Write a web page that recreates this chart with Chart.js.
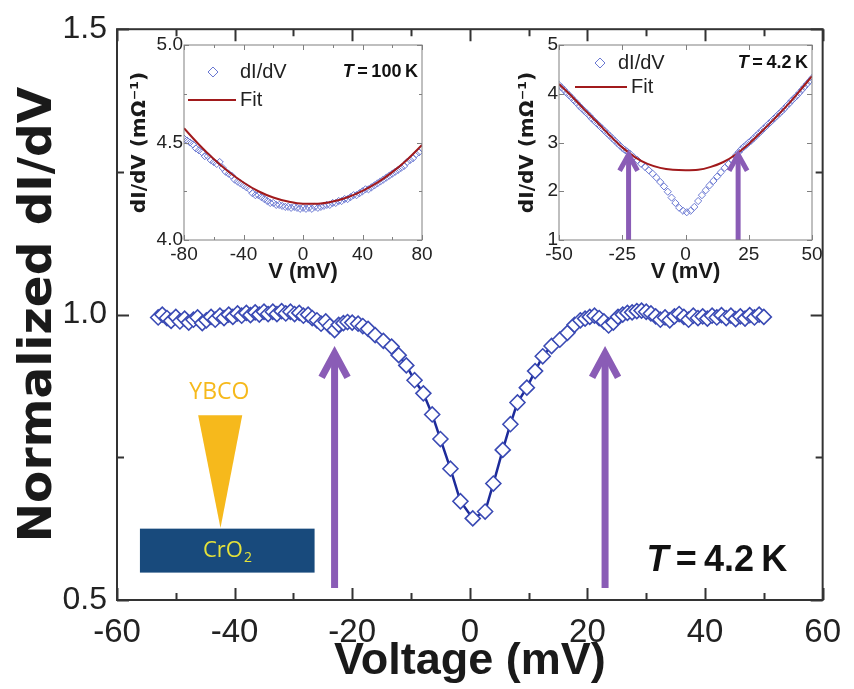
<!DOCTYPE html>
<html><head><meta charset="utf-8">
<script src="https://cdn.jsdelivr.net/npm/chart.js@4.4.1/dist/chart.umd.min.js"></script>
<style>
body{margin:0;background:#fff}
#wrap{position:relative;width:854px;height:689px;overflow:hidden;background:#fff}
canvas{position:absolute}
</style></head>
<body><div id="wrap">
<canvas id="main" width="854" height="689" style="left:0;top:0"></canvas>
<canvas id="in1" width="320" height="255" style="left:120px;top:30px"></canvas>
<canvas id="in2" width="334" height="255" style="left:510px;top:30px"></canvas>
</div>
<script>
// ---------- DATA ----------
const mainVoltage = [-53.0,-52.3,-51.5,-50.8,-50.0,-49.3,-48.5,-47.8,-47.0,-46.3,-45.5,-44.8,-44.0,-43.3,-42.5,-41.8,-41.0,-40.3,-39.5,-38.8,-38.0,-37.3,-36.5,-35.8,-35.0,-34.3,-33.5,-32.8,-32.0,-31.3,-30.5,-29.8,-29.0,-28.3,-27.5,-26.8,-26.0,-25.3,-24.5,-23.8,-23.0,-22.3,-21.5,-20.8,-20.0,-19.0,-18.2,-17.3,-16.1,-14.7,-13.3,-12.1,-10.8,-9.4,-7.9,-6.4,-5.0,-3.3,-1.6,0.5,2.6,4.0,5.6,6.9,8.1,9.7,11.1,12.4,13.9,15.3,16.6,17.8,18.8,19.6,20.4,21.2,22.0,22.8,23.6,24.4,25.2,26.0,26.8,27.6,28.4,29.2,30.0,30.8,31.6,32.4,33.2,34.0,34.8,35.6,36.4,37.2,38.0,38.8,39.6,40.4,41.2,42.0,42.8,43.6,44.4,45.2,46.0,46.8,47.6,48.4,49.2,50.0];
const mainConductance = [0.995,1.000,0.994,0.989,0.996,0.988,0.993,0.986,0.991,0.995,0.985,0.990,0.996,0.991,0.998,0.994,1.000,0.996,1.002,0.998,1.003,0.999,1.004,1.000,1.005,1.001,1.005,1.001,1.006,1.002,1.005,1.001,1.003,0.998,1.000,0.994,0.990,0.984,0.988,0.980,0.973,0.982,0.985,0.987,0.986,0.984,0.980,0.975,0.964,0.954,0.944,0.929,0.911,0.885,0.862,0.825,0.782,0.730,0.673,0.643,0.655,0.704,0.763,0.808,0.846,0.872,0.901,0.927,0.945,0.956,0.968,0.982,0.990,0.993,0.996,0.998,0.994,0.988,0.981,0.986,0.996,1.000,1.003,1.004,1.006,1.007,1.005,1.002,0.997,0.991,0.995,0.990,0.997,1.001,0.996,0.991,0.998,0.994,0.997,0.993,0.998,0.995,0.999,0.994,0.998,0.992,0.997,0.993,0.999,0.995,1.000,0.996];
const mainArrowVoltage = [-23, 23];
const mainXTicks = [-60,-40,-20,0,20,40,60];
const mainYTicks = [0.5,1.0,1.5];

const in1Voltage = [-80,-78,-76,-74,-72,-70,-68,-66,-64,-62,-60,-58,-56,-54,-52,-50,-48,-46,-44,-42,-40,-38,-36,-34,-32,-30,-28,-26,-24,-22,-20,-18,-16,-14,-12,-10,-8,-6,-4,-2,0,2,4,6,8,10,12,14,16,18,20,22,24,26,28,30,32,34,36,38,40,42,44,46,48,50,52,54,56,58,60,62,64,66,68,70,72,74,76,78,80];
const in1Data = [4.52,4.51,4.50,4.49,4.47,4.46,4.45,4.43,4.43,4.41,4.40,4.39,4.40,4.37,4.35,4.34,4.33,4.31,4.30,4.29,4.28,4.27,4.26,4.24,4.23,4.23,4.22,4.21,4.20,4.19,4.19,4.18,4.18,4.175,4.17,4.17,4.165,4.17,4.165,4.16,4.165,4.16,4.165,4.16,4.17,4.165,4.17,4.175,4.18,4.18,4.19,4.19,4.20,4.20,4.21,4.21,4.22,4.23,4.23,4.24,4.25,4.26,4.26,4.27,4.28,4.29,4.30,4.31,4.32,4.33,4.34,4.35,4.36,4.37,4.38,4.40,4.41,4.42,4.44,4.45,4.47];
const in1FitVoltage = [-80,-70,-60,-50,-40,-30,-20,-10,0,10,20,30,40,50,60,70,80];
const in1Fit = [4.573,4.490,4.415,4.350,4.295,4.250,4.218,4.197,4.186,4.186,4.197,4.219,4.252,4.294,4.348,4.412,4.487];

const in2Voltage = [-50,-49,-48,-47,-46,-45,-44,-43,-42,-41,-40,-39,-38,-37,-36,-35,-34,-33,-32,-31,-30,-29,-28,-27,-26,-25,-24,-23,-22,-20.5,-19,-17.5,-16,-14.5,-13,-11.5,-10,-8.5,-7,-5.5,-4,-2.5,-1,0.5,2,3.5,5,6.5,8,9.5,11,12.5,14,15.5,17,18.5,20,21,22,23,24,25,26,27,28,29,30,31,32,33,34,35,36,37,38,39,40,41,42,43,44,45,46,47,48,49,50];
const in2Data = [4.18,4.13,4.08,4.02,3.97,3.92,3.86,3.81,3.75,3.70,3.65,3.60,3.55,3.49,3.44,3.39,3.34,3.29,3.24,3.19,3.14,3.09,3.04,2.99,2.94,2.89,2.85,2.81,2.77,2.70,2.64,2.56,2.50,2.43,2.36,2.28,2.19,2.10,1.99,1.87,1.76,1.66,1.60,1.57,1.60,1.68,1.80,1.92,2.02,2.12,2.21,2.30,2.39,2.48,2.56,2.64,2.74,2.80,2.86,2.91,2.95,3.00,3.04,3.09,3.14,3.19,3.24,3.29,3.34,3.39,3.44,3.49,3.54,3.59,3.64,3.69,3.75,3.80,3.86,3.91,3.96,4.02,4.08,4.14,4.20,4.26,4.32];
const in2FitVoltage = [-50,-45,-40,-35,-30,-25,-20,-15,-10,-5,0,5,10,15,20,25,30,35,40,45,50];
const in2Fit = [4.20,3.95,3.68,3.42,3.15,2.90,2.70,2.56,2.48,2.44,2.43,2.44,2.50,2.60,2.76,2.97,3.22,3.48,3.75,4.05,4.36];
const in2ArrowVoltage = [-22.5, 20.8];

// ---------- STYLE ----------
const SANS = "'Liberation Sans',Arial,sans-serif";
const WIDE = "'DejaVu Sans','Liberation Sans',sans-serif";
const pts = (xs, ys) => xs.map((v, i) => ({x: v, y: ys[i]}));

const framePlugin = {
  id: 'frame',
  afterDatasetsDraw(chart, args, o) {
    const {ctx, chartArea: a, scales: {x, y}} = chart;
    ctx.save();
    ctx.strokeStyle = o.color; ctx.lineWidth = o.width;
    ctx.beginPath();
    const isMajor = (v, s) => Math.abs(v / s - Math.round(v / s)) < 1e-6;
    for (let v = x.min; v <= x.max + 1e-9; v += o.xMinor) {
      const px = Math.round(x.getPixelForValue(v)) + 0.5;
      const L = isMajor(v, o.xMajor) ? o.lenMajor : o.lenMinor;
      ctx.moveTo(px, a.bottom); ctx.lineTo(px, a.bottom - L);
      ctx.moveTo(px, a.top); ctx.lineTo(px, a.top + L);
    }
    for (let v = y.min; v <= y.max + 1e-9; v += o.yMinor) {
      const py = Math.round(y.getPixelForValue(v)) + 0.5;
      const L = isMajor(v, o.yMajor) ? o.lenMajor : o.lenMinor;
      ctx.moveTo(a.left, py); ctx.lineTo(a.left + L, py);
      ctx.moveTo(a.right, py); ctx.lineTo(a.right - L, py);
    }
    ctx.stroke();
    ctx.strokeRect(a.left, a.top, a.right - a.left, a.bottom - a.top);
    ctx.restore();
  }
};

function drawArrow(ctx, x, yBase, yTip, o) {
  ctx.save();
  ctx.strokeStyle = o.color; ctx.lineWidth = o.width;
  ctx.lineCap = 'butt'; ctx.lineJoin = 'miter';
  ctx.beginPath();
  ctx.moveTo(x, yBase); ctx.lineTo(x, yTip + 2);
  ctx.stroke();
  ctx.beginPath();
  ctx.moveTo(x - o.headW, yTip + o.headH);
  ctx.lineTo(x, yTip);
  ctx.lineTo(x + o.headW, yTip + o.headH);
  ctx.stroke();
  ctx.restore();
}

function drawTLabel(ctx, x, y, size, rest, align) {
  ctx.save();
  ctx.fillStyle = '#111';
  ctx.textBaseline = 'middle';
  ctx.font = `italic bold ${size}px ${SANS}`;
  const wT = ctx.measureText('T').width;
  ctx.font = `bold ${size}px ${SANS}`;
  const wR = ctx.measureText(rest).width;
  let x0 = align === 'right' ? x - wT - wR : x - (wT + wR) / 2;
  ctx.font = `italic bold ${size}px ${SANS}`;
  ctx.textAlign = 'left';
  ctx.fillText('T', x0, y);
  ctx.font = `bold ${size}px ${SANS}`;
  ctx.fillText(rest, x0 + wT, y);
  ctx.restore();
}

const arrowPlugin = {
  id: 'arrows',
  afterDatasetsDraw(chart, args, o) {
    const {ctx, scales: {x, y}} = chart;
    o.at.forEach(v => {
      drawArrow(ctx, x.getPixelForValue(v), y.getPixelForValue(o.base), y.getPixelForValue(o.tip), o);
    });
  }
};

const schematicPlugin = {
  id: 'schematic',
  afterDatasetsDraw(chart, args, o) {
    if (!o.show) return;
    const {ctx, scales: {x, y}} = chart;
    ctx.save();
    const rx0 = x.getPixelForValue(-56.1), rx1 = x.getPixelForValue(-26.4);
    const ry0 = y.getPixelForValue(0.625), ry1 = y.getPixelForValue(0.548);
    ctx.fillStyle = '#184a7c';
    ctx.fillRect(rx0, ry0, rx1 - rx0, ry1 - ry0);
    ctx.fillStyle = '#f6b91c';
    ctx.beginPath();
    ctx.moveTo(x.getPixelForValue(-46.2), y.getPixelForValue(0.8235));
    ctx.lineTo(x.getPixelForValue(-38.7), y.getPixelForValue(0.8235));
    ctx.lineTo(x.getPixelForValue(-42.4), y.getPixelForValue(0.626));
    ctx.closePath(); ctx.fill();
    ctx.textBaseline = 'middle'; ctx.textAlign = 'center';
    ctx.font = "23px 'Open Sans',sans-serif";
    ctx.fillStyle = '#f6b91c';
    ctx.fillText('YBCO', x.getPixelForValue(-42.6), y.getPixelForValue(0.863));
    ctx.fillStyle = '#e4e23a';
    ctx.font = "22px 'Open Sans',sans-serif";
    const cx = x.getPixelForValue(-41.3), cy = y.getPixelForValue(0.587);
    const w1 = ctx.measureText('CrO').width;
    ctx.font = "14px 'Open Sans',sans-serif";
    const w2 = ctx.measureText('2').width;
    const left = cx - (w1 + w2) / 2;
    ctx.textAlign = 'left';
    ctx.font = "22px 'Open Sans',sans-serif";
    ctx.fillText('CrO', left, cy);
    ctx.font = "14px 'Open Sans',sans-serif";
    ctx.fillText('2', left + w1 + 1, cy + 8);
    ctx.restore();
    drawTLabel(ctx, x.getPixelForValue(42.0), y.getPixelForValue(0.568), 36, '\u2009=\u20094.2\u2009K', 'center');
  }
};

const insetLegend = {
  id: 'insetLegend',
  afterDraw(chart, args, o) {
    const {ctx, chartArea: a} = chart;
    const ds = chart.data.datasets;
    const dataDs = ds[1], fitDs = ds[0];
    ctx.save();
    ctx.strokeStyle = dataDs.borderColor; ctx.fillStyle = 'rgba(0,0,0,0)';
    Chart.helpers.drawPoint(ctx, {pointStyle: 'rectRot', radius: o.markR, borderWidth: 1}, a.left + o.markX, a.top + o.row1);
    ctx.strokeStyle = fitDs.borderColor; ctx.lineWidth = 2;
    ctx.beginPath(); ctx.moveTo(a.left + o.lineX0, a.top + o.row2); ctx.lineTo(a.left + o.lineX1, a.top + o.row2); ctx.stroke();
    ctx.fillStyle = '#222'; ctx.textBaseline = 'middle'; ctx.textAlign = 'left';
    ctx.font = `${o.size}px ${SANS}`;
    ctx.fillText(dataDs.label, a.left + o.textX, a.top + o.row1);
    ctx.fillText(fitDs.label, a.left + o.textX2, a.top + o.row2);
    ctx.restore();
    drawTLabel(ctx, a.right - o.tRight, a.top + o.row1, o.tSize, o.tText, 'right');
  }
};

// ---------- MAIN CHART ----------
new Chart(document.getElementById('main'), {
  type: 'scatter',
  data: {
    datasets: [{
      label: 'dI/dV',
      data: pts(mainVoltage, mainConductance),
      showLine: true,
      borderColor: '#1d2b9a',
      borderWidth: 2.5,
      pointStyle: 'rectRot',
      pointRadius: 7.5,
      pointBorderWidth: 1.6,
      pointBorderColor: '#3a4ab4',
      pointBackgroundColor: '#ffffff',
      tension: 0
    }]
  },
  options: {
    responsive: false, animation: false, devicePixelRatio: 1,
    layout: {padding: {top: 22, right: 23, left: 0, bottom: 0}},
    plugins: {
      legend: {display: false}, tooltip: {enabled: false},
      frame: {color: '#333', width: 2, xMinor: 10, xMajor: 20, yMinor: 0.25, yMajor: 0.5, lenMajor: 12, lenMinor: 7},
      arrows: {at: mainArrowVoltage, base: 0.521, tip: 0.932, color: '#8a5cb6', width: 7, headW: 13, headH: 24},
      schematic: {show: true}
    },
    scales: {
      x: {
        type: 'linear', min: -60, max: 60,
        afterFit: s => { s.height = 89; },
        afterBuildTicks: s => { s.ticks = mainXTicks.map(v => ({value: v})); },
        grid: {display: false, drawTicks: false},
        border: {display: false},
        ticks: {font: {family: SANS, size: 33}, color: '#222', padding: 13, maxRotation: 0, autoSkip: false},
        title: {display: true, text: 'Voltage (mV)', color: '#1a1a1a', font: {family: SANS, size: 45, weight: 'bold', lineHeight: 1.05}, padding: {top: 0, bottom: 4}}
      },
      y: {
        type: 'linear', min: 0.5, max: 1.5,
        afterFit: s => { s.width = 117; },
        afterBuildTicks: s => { s.ticks = mainYTicks.map(v => ({value: v})); },
        grid: {display: false, drawTicks: false},
        border: {display: false},
        ticks: {font: {family: SANS, size: 32}, color: '#222', padding: 10, callback: v => v.toFixed(1)},
        title: {display: true, text: 'Normalized dI/dV', color: '#1a1a1a', font: {family: WIDE, size: 47, weight: 'bold'}, padding: {top: 11, bottom: 0}}
      }
    }
  },
  plugins: [schematicPlugin, arrowPlugin, framePlugin]
});

// ---------- INSETS ----------
function makeInset(id, o) {
  return new Chart(document.getElementById(id), {
    type: 'scatter',
    data: {
      datasets: [{
        label: 'Fit',
        data: pts(o.fitV, o.fit),
        showLine: true, borderColor: '#a11a1c', borderWidth: 2,
        pointRadius: 0, cubicInterpolationMode: 'monotone', order: 0
      }, {
        label: 'dI/dV',
        data: pts(o.dataV, o.data),
        showLine: false, borderColor: '#6a78d2',
        pointStyle: 'rectRot', pointRadius: 3.6, pointBorderWidth: 1,
        pointBorderColor: '#6a78d2', pointBackgroundColor: 'rgba(255,255,255,0)', order: 1
      }]
    },
    options: {
      responsive: false, animation: false, devicePixelRatio: 1,
      layout: {padding: {top: 15, right: o.padRight, left: 0, bottom: 0}},
      plugins: {
        legend: {display: false}, tooltip: {enabled: false},
        frame: {color: '#808080', width: 1, xMinor: o.xMinor, xMajor: o.xMajor, yMinor: o.yMinor, yMajor: o.yMajor, lenMajor: 5, lenMinor: 3},
        arrows: {at: o.arrows || [], base: o.yMin, tip: o.arrowTip || 0, color: '#8a5cb6', width: 5, headW: 9, headH: 16},
        insetLegend: o.legend
      },
      scales: {
        x: {
          type: 'linear', min: o.xMin, max: o.xMax,
          afterFit: s => { s.height = 45; },
          afterBuildTicks: s => { s.ticks = o.xTicks.map(v => ({value: v})); },
          grid: {display: false, drawTicks: false}, border: {display: false},
          ticks: {font: {family: SANS, size: 19}, color: '#222', padding: 3, maxRotation: 0, autoSkip: false},
          title: {display: true, text: 'V (mV)', color: '#1a1a1a', font: {family: SANS, size: 22, weight: 'bold', lineHeight: 1.1}, padding: {top: 0, bottom: 1}}
        },
        y: {
          type: 'linear', min: o.yMin, max: o.yMax,
          afterFit: s => { s.width = o.yWidth; },
          afterBuildTicks: s => { s.ticks = o.yTicks.map(v => ({value: v})); },
          grid: {display: false, drawTicks: false}, border: {display: false},
          ticks: {font: {family: SANS, size: 19}, color: '#222', padding: 1, callback: o.yFmt},
          title: {display: true, text: 'dI/dV (mΩ⁻¹)', color: '#1a1a1a', font: {family: WIDE, size: 20, weight: 'bold'}, padding: {top: o.yTitlePad, bottom: 0}}
        }
      }
    },
    plugins: [arrowPlugin, framePlugin, insetLegend]
  });
}

makeInset('in1', {
  fitV: in1FitVoltage, fit: in1Fit, dataV: in1Voltage, data: in1Data,
  xMin: -80, xMax: 80, yMin: 4.0, yMax: 5.0,
  xTicks: [-80,-40,0,40,80], yTicks: [4.0,4.5,5.0], yFmt: v => v.toFixed(1),
  xMinor: 20, xMajor: 40, yMinor: 0.25, yMajor: 0.5,
  yWidth: 64, padRight: 18, yTitlePad: 8,
  legend: {markX: 29, row1: 27, row2: 55, markR: 5, lineX0: 4, lineX1: 52, textX: 56, textX2: 56, size: 20, tRight: 4, tSize: 18, tText: '\u2009=\u2009100\u2009K'}
});

makeInset('in2', {
  fitV: in2FitVoltage, fit: in2Fit, dataV: in2Voltage, data: in2Data,
  xMin: -50, xMax: 50, yMin: 1, yMax: 5,
  xTicks: [-50,-25,0,25,50], yTicks: [1,2,3,4,5], yFmt: v => String(v),
  xMinor: 25, xMajor: 25, yMinor: 1, yMajor: 1,
  yWidth: 49, padRight: 32, yTitlePad: 6,
  arrows: in2ArrowVoltage, arrowTip: 2.75,
  legend: {markX: 41, row1: 18, row2: 42, markR: 5, lineX0: 16, lineX1: 68, textX: 59, textX2: 72, size: 20, tRight: 4, tSize: 18, tText: '\u2009=\u20094.2\u2009K'}
});
</script>
</body></html>
